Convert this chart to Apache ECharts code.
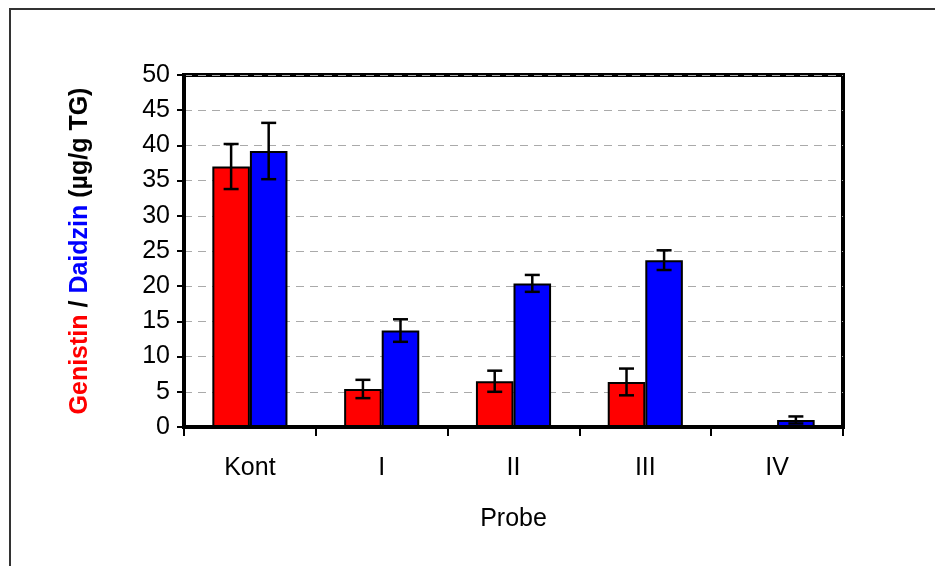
<!DOCTYPE html>
<html>
<head>
<meta charset="utf-8">
<script src="https://cdn.jsdelivr.net/npm/echarts@6/dist/echarts.min.js"></script>
<style>
  html, body { margin: 0; padding: 0; background: #fff; }
  #chart { width: 935px; height: 566px; }
</style>
</head>
<body>
<div id="chart"></div>
<script>
// Isoflavone content per sample (µg/g TG), mean and standard deviation
const categories = ['Kont', 'I', 'II', 'III', 'IV'];
const genistin = [37.0, 5.4, 6.5, 6.4, 0];
const genistinErr = [3.2, 1.3, 1.5, 1.9, 0];
const daidzin = [39.2, 13.7, 20.4, 23.7, 1.0];
const daidzinErr = [4.0, 1.6, 1.2, 1.4, 0.5];
const yTicks = [0, 5, 10, 15, 20, 25, 30, 35, 40, 45, 50];

const FONT = '"Liberation Sans", Arial, sans-serif';
const CAT_GAP = 0.43;   // share of category width left empty

// Error bar with caps; offset = -1 for the left bar, +1 for the right bar
function errorBarRenderer(values, errs, offset) {
  return function (params, api) {
    const i = api.value(0);
    const v = values[i];
    const e = errs[i];
    if (!e) return null;
    const catW = api.size([1, 0])[0];
    const barW = catW * (1 - CAT_GAP) / 2;
    const center = api.coord([i, v]);
    const x = center[0] + offset * barW / 2;
    const top = api.coord([i, v + e])[1];
    const bot = api.coord([i, v - e])[1];
    const cap = 7.5;
    const style = { stroke: '#000', lineWidth: 2.5 };
    return {
      type: 'group',
      children: [
        { type: 'line', shape: { x1: x, y1: top, x2: x, y2: bot }, style },
        { type: 'line', shape: { x1: x - cap, y1: top, x2: x + cap, y2: top }, style },
        { type: 'line', shape: { x1: x - cap, y1: bot, x2: x + cap, y2: bot }, style }
      ]
    };
  };
}

const chart = echarts.init(document.getElementById('chart'));
chart.setOption({
  animation: false,
  backgroundColor: '#fff',
  graphic: [{
    type: 'rect',
    shape: { x: 10, y: 9, width: 960, height: 600 },
    style: { fill: 'none', stroke: '#333', lineWidth: 2 },
    silent: true
  }],
  grid: {
    left: 184, right: 92, top: 75, bottom: 139,
    show: true, borderColor: '#000', borderWidth: 4, backgroundColor: 'transparent'
  },
  xAxis: {
    type: 'category',
    data: categories,
    name: 'Probe',
    nameLocation: 'middle',
    nameGap: 80,
    nameTextStyle: { fontFamily: FONT, fontSize: 25, color: '#000' },
    axisLine: { lineStyle: { color: '#000', width: 4 } },
    axisTick: { show: true, length: 9, lineStyle: { color: '#000', width: 2 } },
    axisLabel: { fontFamily: FONT, fontSize: 25, color: '#000', margin: 29 },
    splitLine: { show: false }
  },
  yAxis: {
    type: 'value',
    min: yTicks[0],
    max: yTicks[yTicks.length - 1],
    interval: 5,
    name: '{g|Genistin}{k| / }{d|Daidzin}{k| (µg/g TG)}',
    nameLocation: 'middle',
    nameRotate: 90,
    nameGap: 91,
    nameTextStyle: {
      fontFamily: FONT, fontSize: 25, fontWeight: 'bold',
      rich: {
        g: { color: '#ff0000', fontFamily: FONT, fontSize: 25, fontWeight: 'bold' },
        d: { color: '#0000ff', fontFamily: FONT, fontSize: 25, fontWeight: 'bold' },
        k: { color: '#000', fontFamily: FONT, fontSize: 25, fontWeight: 'bold' }
      }
    },
    axisLine: { show: true, lineStyle: { color: '#000', width: 4 } },
    axisTick: { show: true, length: 7, lineStyle: { color: '#000', width: 2 } },
    axisLabel: { fontFamily: FONT, fontSize: 25, color: '#000', margin: 14 },
    splitLine: {
      show: true,
      lineStyle: { color: '#aaa', width: 1, type: [8, 6] }
    }
  },
  series: [
    {
      name: 'Genistin',
      type: 'bar',
      data: genistin,
      barGap: '0%',
      barCategoryGap: (CAT_GAP * 100) + '%',
      itemStyle: { color: '#ff0000', borderColor: '#000', borderWidth: 2 },
      z: 2
    },
    {
      name: 'Daidzin',
      type: 'bar',
      data: daidzin,
      barGap: '0%',
      barCategoryGap: (CAT_GAP * 100) + '%',
      itemStyle: { color: '#0000ff', borderColor: '#000', borderWidth: 2 },
      z: 2
    },
    {
      type: 'custom',
      data: genistin.map((v, i) => [i, v]),
      renderItem: errorBarRenderer(genistin, genistinErr, -1),
      z: 3
    },
    {
      type: 'custom',
      data: daidzin.map((v, i) => [i, v]),
      renderItem: errorBarRenderer(daidzin, daidzinErr, 1),
      z: 3
    }
  ]
});
</script>
</body>
</html>
